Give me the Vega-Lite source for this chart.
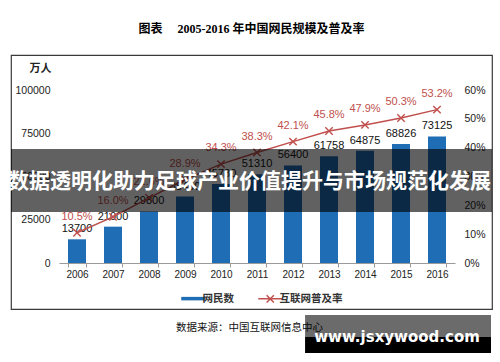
{
  "$schema": "https://vega.github.io/schema/vega-lite/v6.json",
  "width": 481,
  "height": 254,
  "autosize": "none",
  "padding": {"left": 11, "top": 55, "right": 8, "bottom": 53},
  "background": "white",
  "title": {
    "text": "图表　 2005-2016 年中国网民规模及普及率",
    "font": "Liberation Serif, Noto Sans CJK SC",
    "fontSize": 12,
    "fontWeight": "bold",
    "color": "#000000",
    "anchor": "middle",
    "offset": 19
  },
  "config": {
    "view": {"stroke": "#3a3a3a", "strokeWidth": 1.2},
    "font": "Liberation Sans"
  },
  "data": {
    "values": [
      {"year": "2006", "netizens": 13700, "rate": 0.105},
      {"year": "2007", "netizens": 21000, "rate": 0.160},
      {"year": "2008", "netizens": 29800, "rate": 0.226},
      {"year": "2009", "netizens": 38400, "rate": 0.289},
      {"year": "2010", "netizens": 45730, "rate": 0.343},
      {"year": "2011", "netizens": 51310, "rate": 0.383},
      {"year": "2012", "netizens": 56400, "rate": 0.421},
      {"year": "2013", "netizens": 61758, "rate": 0.458},
      {"year": "2014", "netizens": 64875, "rate": 0.479},
      {"year": "2015", "netizens": 68826, "rate": 0.503},
      {"year": "2016", "netizens": 73125, "rate": 0.532}
    ]
  },
  "layer": [
    {
      "encoding": {
        "x": {
          "field": "year",
          "type": "nominal",
          "scale": {"range": [48, 444], "paddingInner": 0.5, "paddingOuter": 0.25},
          "axis": {
            "orient": "bottom",
            "offset": -46,
            "labelAngle": 0,
            "labelFontSize": 10,
            "labelColor": "#222222",
            "domainColor": "#9a9a9a",
            "tickColor": "#9a9a9a",
            "tickBand": "extent",
            "tickSize": 4,
            "labelPadding": 2,
            "title": "数据来源：中国互联网信息中心",
            "titleFont": "Noto Sans CJK SC",
            "titleFontSize": 10.5,
            "titleFontWeight": "normal",
            "titleColor": "#111111",
            "titleX": 238,
            "titleY": 64,
            "titleAlign": "center",
            "titleBaseline": "middle"
          }
        },
        "y": {
          "field": "netizens",
          "type": "quantitative",
          "scale": {"domain": [0, 100000], "range": [208, 35], "nice": false},
          "axis": {
            "orient": "left",
            "offset": -48,
            "values": [0, 25000, 50000, 75000, 100000],
            "format": "d",
            "domain": false,
            "ticks": false,
            "grid": false,
            "labelPadding": 9,
            "labelFontSize": 10.5,
            "labelColor": "#222222",
            "title": "万人",
            "titleAngle": 0,
            "titleX": -19,
            "titleY": 13,
            "titleAlign": "center",
            "titleBaseline": "middle",
            "titleFont": "Noto Sans CJK SC",
            "titleFontSize": 11,
            "titleFontWeight": "bold",
            "titleColor": "#222222"
          }
        }
      },
      "layer": [
        {
          "mark": {"type": "bar"},
          "encoding": {
            "color": {
              "datum": "网民数",
              "scale": {"domain": ["网民数", "互联网普及率"], "range": ["#1f6db4", "#c0504d"]},
              "legend": {
                "orient": "none",
                "legendX": 177,
                "legendY": 238,
                "direction": "horizontal",
                "title": null,
                "labelFont": "Noto Sans CJK SC",
                "labelFontSize": 10.5,
                "labelFontWeight": "bold",
                "labelColor": "#333333",
                "labelOffset": 4,
                "symbolSize": 576,
                "symbolType": "stroke",
                "columnPadding": 21,
                "encode": {
                  "symbols": {
                    "update": {
                      "shape": {"signal": "datum.value === '网民数' ? 'M-1,0L1,0' : 'M-1,0L1,0M-0.3,-0.3L0.3,0.3M-0.3,0.3L0.3,-0.3'"},
                      "strokeWidth": {"signal": "datum.value === '网民数' ? 3.5 : 1.5"},
                      "stroke": {"signal": "datum.value === '网民数' ? '#6a9fd4' : '#c0504d'"},
                      "fill": {"value": "transparent"}
                    }
                  }
                }
              }
            }
          }
        },
        {
          "mark": {"type": "text", "fontSize": 11, "color": "#111111", "baseline": "middle", "dy": -10},
          "encoding": {
            "text": {"field": "netizens", "type": "quantitative", "format": "d"}
          }
        }
      ]
    },
    {
      "encoding": {
        "x": {
          "field": "year",
          "type": "nominal",
          "scale": {"range": [48, 444], "paddingInner": 0.5, "paddingOuter": 0.25},
          "axis": {
            "orient": "bottom",
            "offset": -46,
            "labelAngle": 0,
            "labelFontSize": 10,
            "labelColor": "#222222",
            "domainColor": "#9a9a9a",
            "tickColor": "#9a9a9a",
            "tickBand": "extent",
            "tickSize": 4,
            "labelPadding": 2,
            "title": "数据来源：中国互联网信息中心",
            "titleFont": "Noto Sans CJK SC",
            "titleFontSize": 10.5,
            "titleFontWeight": "normal",
            "titleColor": "#111111",
            "titleX": 238,
            "titleY": 64,
            "titleAlign": "center",
            "titleBaseline": "middle"
          }
        },
        "y": {
          "field": "rate",
          "type": "quantitative",
          "scale": {"domain": [0, 0.6], "range": [208, 35], "nice": false},
          "axis": {
            "orient": "right",
            "offset": -38,
            "values": [0, 0.1, 0.2, 0.3, 0.4, 0.5, 0.6],
            "format": ".0%",
            "domain": false,
            "ticks": false,
            "grid": false,
            "labelPadding": 10,
            "labelFontSize": 10.5,
            "labelColor": "#222222",
            "title": null
          }
        }
      },
      "layer": [
        {
          "mark": {"type": "line", "strokeWidth": 1.5},
          "encoding": {"color": {"datum": "互联网普及率"}}
        },
        {
          "mark": {"type": "point", "shape": "M-1,-1L1,1M-1,1L1,-1", "filled": false, "size": 55, "strokeWidth": 1.4, "color": "#c0504d", "opacity": 1}
        },
        {
          "mark": {"type": "text", "fontSize": 11, "color": "#c0504d", "baseline": "middle", "dy": -16},
          "encoding": {
            "text": {"field": "rate", "type": "quantitative", "format": ".1%"}
          }
        }
      ]
    },
    {
      "data": {"values": [{"overlay": "banner"}]},
      "encoding": {
        "y": {
          "datum": 0,
          "type": "quantitative",
          "scale": {"domain": [0, 100000], "range": [208, 35], "nice": false},
          "axis": null
        }
      },
      "layer": [
        {
          "mark": {"type": "rect", "color": "#000000", "opacity": 0.62},
          "encoding": {
            "y": {"datum": 65896, "type": "quantitative"},
            "y2": {"datum": 29480}
          }
        },
        {
          "mark": {"type": "text", "text": "数据透明化助力足球产业价值提升与市场规范化发展", "font": "Noto Sans CJK SC", "fontSize": 21, "fontWeight": "bold", "color": "#ffffff", "baseline": "middle", "align": "center", "dx": -2},
          "encoding": {
            "y": {"datum": 46821, "type": "quantitative"}
          }
        },
        {
          "mark": {"type": "rect", "color": "#000000", "opacity": 0.58},
          "encoding": {
            "x": {"datum": "2013", "bandPosition": -0.83},
            "x2": {"datum": "2016", "bandPosition": 3.5},
            "y": {"datum": -30057, "type": "quantitative"},
            "y2": {"datum": -42775}
          }
        },
        {
          "mark": {"type": "rect", "color": "#000000", "opacity": 1},
          "encoding": {
            "x": {"datum": "2013", "bandPosition": -0.83},
            "x2": {"datum": "2016", "bandPosition": 3.5},
            "y": {"datum": -42775, "type": "quantitative"},
            "y2": {"datum": -52023}
          }
        },
        {
          "mark": {"type": "text", "text": "www.jsxywood.com", "font": "DejaVu Sans", "fontSize": 15, "fontWeight": "bold", "color": "#ffffff", "baseline": "alphabetic", "align": "center"},
          "encoding": {
            "x": {"datum": "2015", "bandPosition": 0.28},
            "y": {"datum": -45665, "type": "quantitative"}
          }
        }
      ]
    }
  ],
  "resolve": {"scale": {"y": "independent"}}
}
